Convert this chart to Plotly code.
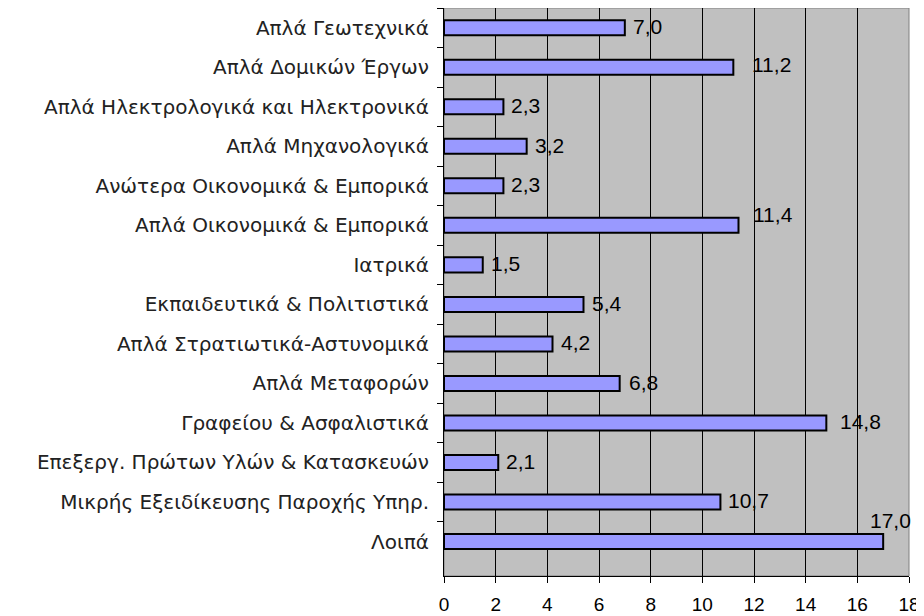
import plotly.graph_objects as go

categories = [
    "Απλά Γεωτεχνικά",
    "Απλά Δομικών Έργων",
    "Απλά Ηλεκτρολογικά και Ηλεκτρονικά",
    "Απλά Μηχανολογικά",
    "Ανώτερα Οικονομικά & Εμπορικά",
    "Απλά Οικονομικά & Εμπορικά",
    "Ιατρικά",
    "Εκπαιδευτικά & Πολιτιστικά",
    "Απλά Στρατιωτικά-Αστυνομικά",
    "Απλά Μεταφορών",
    "Γραφείου & Ασφαλιστικά",
    "Επεξεργ. Πρώτων Υλών & Κατασκευών",
    "Μικρής Εξειδίκευσης Παροχής Υπηρ.",
    "Λοιπά",
]
values = [7.0, 11.2, 2.3, 3.2, 2.3, 11.4, 1.5, 5.4, 4.2, 6.8, 14.8, 2.1, 10.7, 17.0]
x_ticks = [0, 2, 4, 6, 8, 10, 12, 14, 16, 18]

# label placement tweaks (pixels): (xshift, yshift)
label_offsets = [(6, 1), (17, 3), (6, 1), (6, 1), (6, 1), (12, 11), (6, 1), (6, 1),
                 (6, 1), (7, 1), (12, 1), (6, 1), (6, 1), (None, 21)]

fig = go.Figure()
fig.add_trace(go.Bar(
    x=values, y=categories, orientation="h",
    marker=dict(color="#9999FF", line=dict(color="black", width=2)),
    width=0.38, hoverinfo="x+y",
))

annotations = []
for cat, v, (dx, dy) in zip(categories, values, label_offsets):
    txt = f"{v:.1f}".replace(".", ",")
    if dx is None:
        annotations.append(dict(x=v, y=cat, text=txt, showarrow=False, xanchor="center",
                                yanchor="middle", xshift=7, yshift=dy,
                                font=dict(family="Liberation Sans, Arial", size=21, color="black")))
    else:
        annotations.append(dict(x=v, y=cat, text=txt, showarrow=False, xanchor="left",
                                yanchor="middle", xshift=dx, yshift=dy,
                                font=dict(family="Liberation Sans, Arial", size=21, color="black")))

# page body has an 8px margin, so the figure is sized/placed to compensate
fig.update_layout(
    width=916, height=608,
    margin=dict(l=436, r=15, t=0, b=40, autoexpand=False),
    paper_bgcolor="white", plot_bgcolor="#C0C0C0",
    showlegend=False,
    annotations=annotations,
    shapes=[dict(type="rect", xref="paper", yref="paper", x0=0, y0=0, x1=1, y1=1,
                 line=dict(color="#808080", width=1), layer="below")],
    font=dict(family="Liberation Sans, Arial", color="black"),
)
fig.update_xaxes(
    range=[0, 18], tickvals=x_ticks, ticktext=[str(t) for t in x_ticks],
    showgrid=True, gridcolor="black", gridwidth=1,
    showline=True, linecolor="black", linewidth=1,
    ticks="outside", ticklen=6, tickcolor="black",
    tickfont=dict(size=19, color="black"), zeroline=False, automargin=False,
    ticklabelstandoff=5,
)
fig.update_yaxes(
    autorange="reversed", type="category",
    showgrid=False, showline=True, linecolor="black", linewidth=1,
    ticks="outside", ticklen=6, tickcolor="black", tickson="boundaries",
    tickfont=dict(family="DejaVu Sans", size=20, color="#222222"),
    ticklabelstandoff=10, automargin=False,
)

fig.write_html("out.html")
